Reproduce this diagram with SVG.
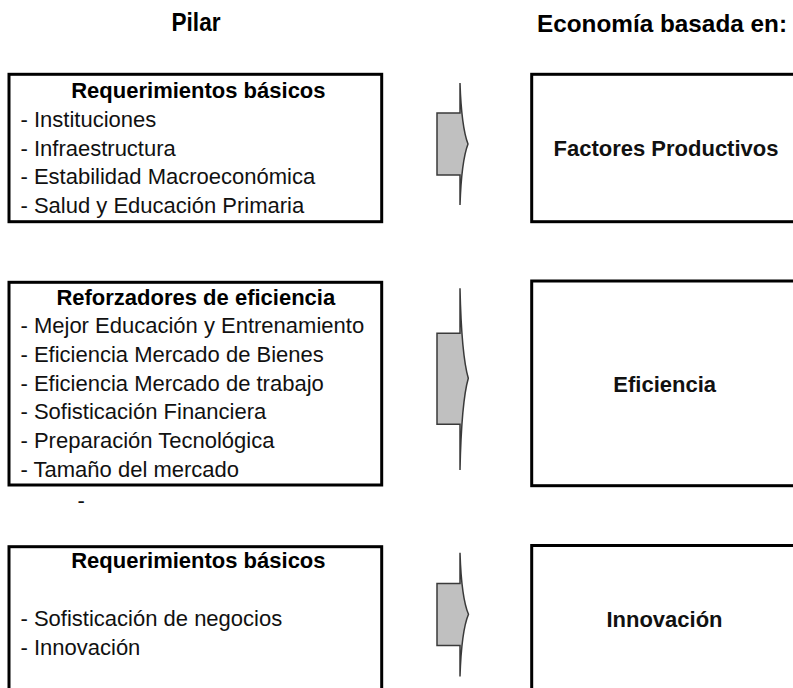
<svg xmlns="http://www.w3.org/2000/svg" width="793" height="688" viewBox="0 0 793 688">
  <style>
    .box { fill: #ffffff; stroke: #000000; stroke-width: 3; }
    .arrow { fill: #c0c0c0; stroke: #3a3a3a; stroke-width: 1.5; stroke-linejoin: miter; }
    .hdr { font-family: "Liberation Sans", Arial, sans-serif; font-size: 26px; font-weight: bold; fill: #000; }
    .title { font-family: "Liberation Sans", Arial, sans-serif; font-size: 22px; font-weight: bold; fill: #000; text-anchor: middle; }
    .item { font-family: "Liberation Sans", Arial, sans-serif; font-size: 22px; fill: #111; }
    .label { font-family: "Liberation Sans", Arial, sans-serif; font-size: 22px; font-weight: bold; fill: #111; text-anchor: middle; }
  </style>
  <rect width="793" height="688" fill="#ffffff"/>

  <g id="headers">
    <text class="hdr" x="171.5" y="31" textLength="49" lengthAdjust="spacingAndGlyphs">Pilar</text>
    <text class="hdr" x="537" y="31.5" style="font-size:24px" textLength="250" lengthAdjust="spacingAndGlyphs">Economía basada en:</text>
  </g>

  <g id="pilar-basicos">
    <rect class="box" x="9" y="74.3" width="372.7" height="147.4"/>
    <text class="title" x="198.4" y="98">Requerimientos básicos</text>
    <text class="item" x="20.5" y="127">- Instituciones</text>
    <text class="item" x="20.5" y="155.7">- Infraestructura</text>
    <text class="item" x="20.5" y="184.4">- Estabilidad Macroeconómica</text>
    <text class="item" x="20.5" y="213.1">- Salud y Educación Primaria</text>
  </g>

  <g id="pilar-eficiencia">
    <rect class="box" x="9" y="282.3" width="372.7" height="202.7"/>
    <text class="title" x="195.8" y="305">Reforzadores de eficiencia</text>
    <text class="item" x="20.5" y="333.3">- Mejor Educación y Entrenamiento</text>
    <text class="item" x="20.5" y="362">- Eficiencia Mercado de Bienes</text>
    <text class="item" x="20.5" y="390.7">- Eficiencia Mercado de trabajo</text>
    <text class="item" x="20.5" y="419.4">- Sofisticación Financiera</text>
    <text class="item" x="20.5" y="448.1">- Preparación Tecnológica</text>
    <text class="item" x="20.5" y="476.8">- Tamaño del mercado</text>
  </g>

  <g id="stray-dash">
    <text class="item" x="77.5" y="508">-</text>
  </g>

  <g id="pilar-innovacion">
    <rect class="box" x="9" y="546.7" width="372.7" height="200"/>
    <text class="title" x="198.4" y="568.3">Requerimientos básicos</text>
    <text class="item" x="20.5" y="626">- Sofisticación de negocios</text>
    <text class="item" x="20.5" y="655">- Innovación</text>
  </g>

  <g id="economia-factores">
    <rect class="box" x="531.7" y="74.3" width="266" height="147.4"/>
    <text class="label" x="666" y="156">Factores Productivos</text>
  </g>

  <g id="economia-eficiencia">
    <rect class="box" x="531.7" y="281" width="266" height="204.7"/>
    <text class="label" x="664.7" y="391.7">Eficiencia</text>
  </g>

  <g id="economia-innovacion">
    <rect class="box" x="531.7" y="545.5" width="266" height="200"/>
    <text class="label" x="664.5" y="627.3">Innovación</text>
  </g>

  <g id="connectors">
    <path class="arrow" d="M437,113 L460,113 L460,83 Q461.5,127 468,144 Q461.5,161 460,205 L460,175 L437,175 Z"/>
    <path class="arrow" d="M437,333.3 L460,333.3 L460,288.3 Q461.5,355 468.3,378.3 Q461.5,402 460,470 L460,424.3 L437,424.3 Z"/>
    <path class="arrow" d="M437,583.5 L460,583.5 L460,552.7 Q461.5,598 468.5,614.3 Q461.5,631 460,676.5 L460,645.5 L437,645.5 Z"/>
  </g>
</svg>
